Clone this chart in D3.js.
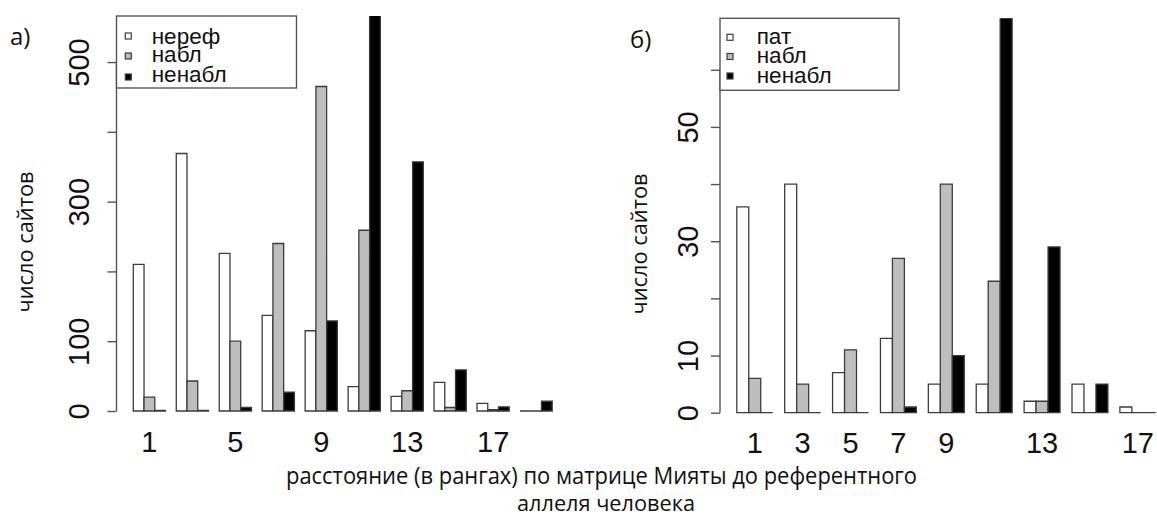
<!DOCTYPE html>
<html>
<head>
<meta charset="utf-8">
<script src="https://cdn.jsdelivr.net/npm/d3@7"></script>
<style>
  body { margin: 0; background: #fff; }
  svg { display: block; }
</style>
</head>
<body>
<svg id="chart" width="1157" height="517"></svg>
<script>
// ---- data: panel а) ----
const categoriesA = ["1", "3", "5", "7", "9", "11", "13", "15", "17", "19"];
const nerefA   = [210, 369, 226, 137, 115, 35, 21, 41, 11, 0];
const nablA    = [20, 43, 100, 240, 465, 259, 29, 5, 2, 0];
const nenablA  = [1, 1, 5, 27, 129, 590, 357, 59, 6, 14];
const legendA  = ["нереф", "набл", "ненабл"];
const yTicksA  = [0, 100, 200, 300, 400, 500];
const yShownA  = [0, 100, 300, 500];
const xShownA  = ["1", "5", "9", "13", "17"];

// ---- data: panel б) ----
const categoriesB = ["1", "3", "5", "7", "9", "11", "13", "15", "17"];
const patB     = [36, 40, 7, 13, 5, 5, 2, 5, 1];
const nablB    = [6, 5, 11, 27, 40, 23, 2, 0, 0];
const nenablB  = [0, 0, 0, 1, 10, 70, 29, 5, 0];
const legendB  = ["пат", "набл", "ненабл"];
const yTicksB  = [0, 10, 20, 30, 40, 50, 60];
const yShownB  = [0, 10, 30, 50];
const xShownB  = ["1", "3", "5", "7", "9", "13", "17"];

const xTitle = ["расстояние (в рангах) по матрице Мияты до референтного", "аллеля человека"];
const yTitle = "число сайтов";

// ---- styling ----
const fills = ["#ffffff", "#bebebe", "#000000"];
const barStroke = "#3c3c3c";
const lineColor = "#555";
const numFont = "'Liberation Sans', Arial, sans-serif";
const textFont = "'Open Sans', 'Noto Sans', sans-serif";

const svg = d3.select("#chart");

const panels = [
  {
    tag: "а)", tagX: 10, tagY: 45,
    cats: categoriesA, series: [nerefA, nablA, nenablA], names: legendA,
    yMax: 566, yTicks: yTicksA, yShown: yShownA, xShown: xShownA,
    axisX: 116.5, barLeft: 133.3, barRight: 552.2, y0: 411, yTop: 16,
    labelX: 89, xLabelY: 452,
    titleX: 33, titleY: 242,
    legend: { x: 116.5, y: 16, w: 180, h: 72, sqX: 128.3, textX: 151.7,
              sqY: [36, 56, 77], baseY: [43.5, 62, 81.5] }
  },
  {
    tag: "б)", tagX: 630, tagY: 48,
    cats: categoriesB, series: [patB, nablB, nenablB], names: legendB,
    yMax: 69, yTicks: yTicksB, yShown: yShownB, xShown: xShownB,
    axisX: 720, barLeft: 736.8, barRight: 1155.8, y0: 412.7, yTop: 18.3,
    labelX: 698, xLabelY: 453,
    titleX: 647, titleY: 244,
    legend: { x: 720, y: 18.3, w: 179, h: 72, sqX: 730, textX: 756.7,
              sqY: [37.3, 56.5, 76], baseY: [43.5, 63, 82.7] }
  }
];

panels.forEach((p, pi) => {
  const g = svg.append("g");

  // group positions: 3 bars per group, one bar-width gap between groups
  const x = d3.scaleBand().domain(p.cats).range([p.barLeft, p.barRight])
    .paddingInner(0.25).paddingOuter(0);
  const xi = d3.scaleBand().domain(d3.range(p.series.length))
    .range([0, x.bandwidth()]).padding(0);
  const y = d3.scaleLinear().domain([0, p.yMax]).range([p.y0, p.yTop]);

  // clip bars at the top of the plotting region
  const clipId = "clip" + pi;
  svg.append("clipPath").attr("id", clipId)
    .append("rect")
    .attr("x", p.axisX).attr("y", p.yTop)
    .attr("width", 1157 - p.axisX).attr("height", p.y0 - p.yTop + 10);

  const rows = p.cats.map((c, i) => p.series.map((s, k) => ({ cat: c, k, v: s[i] })));

  g.append("g").attr("clip-path", `url(#${clipId})`)
    .selectAll("g.grp").data(rows).join("g").attr("class", "grp")
    .selectAll("path").data(d => d).join("path")
    .attr("d", d => {
      const x0 = x(d.cat) + xi(d.k), x1 = x0 + xi.bandwidth();
      const yb = y(0), yt = y(d.v);
      return `M${x0},${yb}H${x1}V${yt}H${x0}Z`;
    })
    .attr("fill", d => fills[d.k])
    .attr("stroke", barStroke)
    .attr("stroke-width", 1.3);

  // y axis
  const yAxis = d3.axisLeft(y).tickValues(p.yTicks).tickSize(9).tickSizeOuter(0)
    .tickFormat(d => p.yShown.includes(d) ? String(d) : "");
  const ya = g.append("g").attr("transform", `translate(${p.axisX},0)`).call(yAxis);
  ya.select(".domain").remove();
  ya.selectAll(".tick line").attr("stroke", lineColor).attr("stroke-width", 1.4);
  ya.append("line")
    .attr("x1", 0).attr("x2", 0)
    .attr("y1", y(0)).attr("y2", y(d3.max(p.yTicks)))
    .attr("stroke", lineColor).attr("stroke-width", 1.4);
  ya.selectAll(".tick text")
    .attr("x", null).attr("dy", null)
    .attr("text-anchor", "middle")
    .attr("transform", `translate(${p.labelX - p.axisX},0) rotate(-90)`)
    .attr("fill", "#111")
    .style("font-family", numFont).style("font-size", "29px");

  // x category labels
  const xAxis = d3.axisBottom(x).tickSize(0)
    .tickFormat(d => p.xShown.includes(d) ? d : "");
  const xa = g.append("g").attr("transform", `translate(0,${p.y0})`).call(xAxis);
  xa.select(".domain").remove();
  xa.selectAll(".tick text")
    .attr("dy", null).attr("y", p.xLabelY - p.y0)
    .attr("fill", "#111")
    .style("font-family", numFont).style("font-size", "29px");

  // legend
  const L = p.legend;
  const lg = g.append("g");
  lg.append("rect")
    .attr("x", L.x).attr("y", L.y).attr("width", L.w).attr("height", L.h)
    .attr("fill", "#fff").attr("stroke", lineColor).attr("stroke-width", 1.4);
  p.names.forEach((name, k) => {
    lg.append("rect")
      .attr("x", L.sqX - 3).attr("y", L.sqY[k] - 3).attr("width", 6).attr("height", 6)
      .attr("fill", fills[k]).attr("stroke", barStroke).attr("stroke-width", 1.2);
    lg.append("text")
      .attr("x", L.textX).attr("y", L.baseY[k])
      .attr("fill", "#111")
      .style("font-family", numFont).style("font-size", "22.5px")
      .text(name);
  });

  // panel tag
  g.append("text").attr("x", p.tagX).attr("y", p.tagY)
    .attr("fill", "#111")
    .style("font-family", textFont).style("font-size", "24px")
    .text(p.tag);

  // y title
  g.append("text")
    .attr("transform", `translate(${p.titleX},${p.titleY}) rotate(-90)`)
    .attr("text-anchor", "middle")
    .attr("textLength", 141).attr("lengthAdjust", "spacingAndGlyphs")
    .attr("fill", "#111")
    .style("font-family", textFont).style("font-size", "21px")
    .text(yTitle);
});

// shared x title (two lines)
svg.append("text").attr("x", 601.5).attr("y", 484)
  .attr("text-anchor", "middle")
  .attr("textLength", 631).attr("lengthAdjust", "spacingAndGlyphs")
  .attr("fill", "#111")
  .style("font-family", textFont).style("font-size", "23px")
  .text(xTitle[0]);
svg.append("text").attr("x", 606).attr("y", 511)
  .attr("text-anchor", "middle")
  .attr("textLength", 178).attr("lengthAdjust", "spacingAndGlyphs")
  .attr("fill", "#111")
  .style("font-family", textFont).style("font-size", "22px")
  .text(xTitle[1]);
</script>
</body>
</html>
